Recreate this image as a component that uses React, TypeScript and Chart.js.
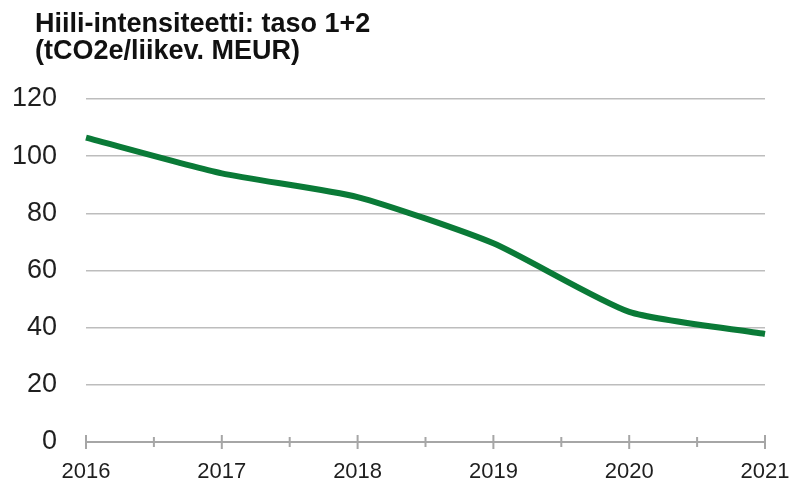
import React, { useEffect, useRef } from "react";
import { Chart, registerables } from "chart.js";

Chart.register(...registerables);

const titleLines = ["Hiili-intensiteetti: taso 1+2", "(tCO2e/liikev. MEUR)"];
const years = ["2016", "2017", "2018", "2019", "2020", "2021"];
const intensity = [106.5, 94, 85.7, 69.5, 45.5, 37.8];
const yMin = 0;
const yMax = 120;
const yStep = 20;

const FONT = "Arial, 'Liberation Sans', sans-serif";

const axisTicksPlugin = {
  id: "axisTicks",
  afterDraw(chart: any) {
    const x = chart.scales.x;
    const y = chart.scales.y;
    const ctx = chart.ctx;
    const base = y.getPixelForValue(yMin);
    ctx.save();
    ctx.strokeStyle = "#a6a6a6";
    ctx.lineWidth = 2;
    const n = years.length;
    for (let i = 0; i < n; i++) {
      const px = x.getPixelForValue(i);
      ctx.beginPath();
      ctx.moveTo(px, base - 7);
      ctx.lineTo(px, base + 7);
      ctx.stroke();
      if (i < n - 1) {
        const mx = (px + x.getPixelForValue(i + 1)) / 2;
        ctx.beginPath();
        ctx.moveTo(mx, base - 5);
        ctx.lineTo(mx, base + 5);
        ctx.stroke();
      }
    }
    ctx.restore();
  },
};

export default function App() {
  const ref = useRef<HTMLCanvasElement | null>(null);
  useEffect(() => {
    document.body.style.margin = "0";
    const canvas = ref.current;
    if (!canvas) return;
    const chart = new Chart(canvas, {
      type: "line",
      data: {
        labels: years,
        datasets: [
          {
            data: intensity,
            borderColor: "#0a7a37",
            borderWidth: 6,
            pointRadius: 0,
            tension: 0.2,
            fill: false,
          },
        ],
      },
      options: {
        responsive: false,
        animation: false,
        layout: { padding: { left: 0, right: 26, top: 99, bottom: 0 } },
        plugins: {
          legend: { display: false },
          tooltip: { enabled: false },
          title: { display: false },
        },
        scales: {
          x: {
            type: "category",
            offset: false,
            afterFit: (s: any) => {
              s.height = 42;
              s.paddingLeft = 0;
              s.paddingRight = 0;
            },
            grid: { display: true, drawOnChartArea: false, drawTicks: false },
            border: { display: true, color: "#a6a6a6", width: 2 },
            ticks: {
              color: "#1f1f1f",
              padding: 17,
              maxRotation: 0,
              autoSkip: false,
              font: { family: FONT, size: 22 },
            },
          },
          y: {
            min: yMin,
            max: yMax,
            afterFit: (s: any) => {
              s.width = 86;
              s.paddingTop = 0;
              s.paddingBottom = 0;
            },
            grid: { color: "#bdbdbd", lineWidth: 1.5, drawTicks: false },
            border: { display: false },
            ticks: {
              stepSize: yStep,
              color: "#1f1f1f",
              padding: 29,
              font: { family: FONT, size: 27 },
            },
          },
        },
      },
      plugins: [axisTicksPlugin],
    });
    return () => chart.destroy();
  }, []);
  return (
    <div style={{ position: "relative", width: 791, height: 484 }}>
      <canvas ref={ref} width={791} height={484} style={{ display: "block" }} />
      <div
        style={{
          position: "absolute",
          left: 35,
          top: 10,
          fontFamily: FONT,
          fontWeight: "bold",
          fontSize: 27,
          lineHeight: "27px",
          color: "#111111",
          whiteSpace: "nowrap",
        }}
      >
        {titleLines.map((t) => (
          <div key={t}>{t}</div>
        ))}
      </div>
    </div>
  );
}
